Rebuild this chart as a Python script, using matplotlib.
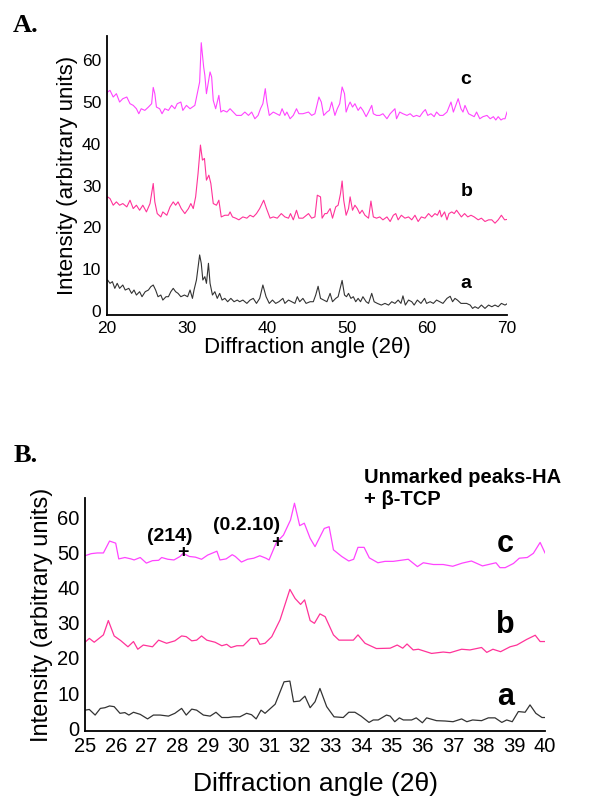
import matplotlib
matplotlib.use("Agg")
import matplotlib.pyplot as plt

# ---------------- Panel A data ----------------
a_A_x = [20.0, 20.1, 20.4, 20.7, 21.0, 21.3, 21.6, 22.0, 22.3, 22.75, 23.1, 23.4, 23.7, 24.1, 24.4, 24.8,
         25.2, 25.5, 25.8, 26.1, 26.4, 26.75, 27.0, 27.4, 27.7, 28.0, 28.3, 28.6, 28.9, 29.25, 29.7, 30.1,
         30.4, 30.7, 30.9, 31.2, 31.6, 31.8, 32.0, 32.25, 32.45, 32.7, 32.9, 33.2, 33.5, 33.8, 34.1, 34.4,
         34.75, 35.1, 35.5, 35.9, 36.3, 36.6, 37.0, 37.5, 37.9, 38.3, 38.7, 39.1, 39.5, 39.9, 40.3, 40.7,
         41.1, 41.5, 42.0, 42.25, 42.7, 43.1, 43.5, 43.8, 44.1, 44.5, 44.9, 45.4, 45.8, 46.1, 46.4, 46.7,
         47.1, 47.5, 47.9, 48.2, 48.6, 48.9, 49.1, 49.4, 49.7, 49.95, 50.2, 50.5, 50.8, 51.1, 51.4, 51.7,
         52.0, 52.4, 52.7, 53.1, 53.4, 53.8, 54.3, 54.75, 55.2, 55.6, 56.0, 56.4, 56.75, 57.0, 57.3, 57.7,
         58.1, 58.4, 58.8, 59.25, 59.7, 59.95, 60.4, 60.8, 61.2, 61.6, 62.0, 62.5, 62.9, 63.2, 63.5, 63.8,
         64.25, 64.5, 64.95, 65.4, 65.7, 66.0, 66.4, 66.8, 67.25, 67.7, 68.1, 68.5, 68.9, 69.3, 69.75, 70.0]
a_A_y = [7.2, 7.4, 6.6, 7.0, 5.4, 6.6, 5.4, 6.2, 5.0, 5.4, 4.2, 5.0, 3.8, 4.6, 3.4, 4.6,
         5.0, 5.8, 6.2, 5.0, 3.4, 3.8, 2.6, 3.4, 3.4, 4.6, 5.4, 4.6, 4.2, 3.4, 3.8, 3.4,
         5.0, 3.0, 5.0, 7.4, 13.4, 11.4, 7.4, 8.2, 6.6, 11.4, 6.6, 3.8, 4.6, 3.0, 4.2, 2.6,
         3.0, 2.2, 3.0, 2.2, 2.6, 2.2, 2.6, 1.8, 2.6, 3.0, 1.8, 3.0, 6.2, 3.4, 1.8, 2.6,
         1.8, 2.2, 3.0, 1.8, 2.6, 2.2, 1.8, 3.4, 2.2, 3.0, 1.8, 2.2, 2.2, 3.8, 5.9, 3.0,
         2.6, 2.2, 4.2, 2.2, 3.0, 3.4, 5.0, 7.3, 3.8, 3.4, 4.2, 3.0, 3.4, 2.2, 3.0, 2.2,
         3.4, 2.2, 1.8, 4.2, 2.2, 1.8, 1.4, 1.8, 1.4, 2.2, 1.8, 2.6, 1.8, 3.6, 1.4, 2.6,
         2.2, 1.4, 2.6, 1.8, 3.0, 1.8, 2.2, 1.8, 2.6, 2.2, 1.8, 3.0, 3.5, 2.2, 3.0, 2.6,
         1.8, 1.8, 1.8, 1.4, 0.6, 1.0, 0.6, 1.4, 0.6, 1.4, 1.0, 1.4, 1.0, 1.8, 1.4, 1.7]

b_A_x = [20.0, 20.1, 20.4, 20.8, 21.2, 21.6, 22.0, 22.5, 22.9, 23.3, 23.7, 24.1, 24.5, 24.95, 25.4, 25.8,
         26.0, 26.3, 26.75, 27.0, 27.5, 27.9, 28.3, 28.6, 28.9, 29.3, 29.75, 30.2, 30.5, 30.8, 31.1, 31.4,
         31.7, 31.95, 32.2, 32.45, 32.75, 33.0, 33.3, 33.7, 34.0, 34.3, 34.75, 35.2, 35.4, 35.7, 36.1, 36.5,
         37.0, 37.5, 37.9, 38.3, 38.7, 39.1, 39.6, 39.95, 40.4, 40.8, 41.3, 41.8, 42.25, 42.7, 42.95, 43.3,
         43.7, 44.0, 44.5, 45.2, 45.6, 46.0, 46.3, 46.7, 46.9, 47.25, 47.5, 47.9, 48.2, 48.6, 48.9, 49.2,
         49.4, 49.6, 49.9, 50.2, 50.4, 50.7, 51.0, 51.3, 51.6, 51.9, 52.25, 52.7, 53.0, 53.3, 53.7, 54.1,
         54.5, 55.0, 55.4, 55.8, 56.1, 56.4, 56.8, 57.25, 57.7, 58.1, 58.5, 58.9, 59.3, 59.75, 60.2, 60.6,
         61.0, 61.3, 61.6, 61.8, 62.2, 62.5, 62.75, 63.1, 63.4, 63.7, 64.0, 64.3, 64.7, 65.1, 65.5, 65.9,
         66.4, 66.8, 67.25, 67.7, 68.1, 68.5, 68.9, 69.3, 69.7, 70.0]
b_A_y = [27.0, 27.3, 26.9, 25.3, 26.1, 25.3, 25.7, 24.9, 26.5, 24.5, 25.3, 24.1, 25.3, 23.7, 25.7, 30.5,
         26.1, 23.3, 22.5, 23.7, 22.9, 24.9, 26.1, 25.3, 26.1, 24.5, 23.3, 24.5, 25.7, 24.5, 27.3, 32.9,
         39.7, 36.1, 36.5, 31.3, 32.5, 30.5, 25.7, 25.3, 26.5, 22.5, 22.9, 22.9, 23.7, 22.5, 22.2, 21.8,
         22.5, 22.2, 22.9, 22.5, 23.3, 24.5, 26.5, 24.5, 22.2, 22.5, 22.2, 23.3, 22.5, 22.2, 23.3, 21.8,
         24.1, 22.2, 22.2, 23.3, 22.2, 22.5, 27.7, 27.3, 22.2, 23.3, 23.3, 24.5, 22.2, 24.9, 25.3, 28.1,
         31.1, 26.5, 22.9, 24.5, 27.3, 24.1, 25.3, 24.5, 23.3, 24.1, 22.9, 22.2, 26.3, 22.5, 22.2, 22.5,
         21.8, 22.5, 21.4, 22.9, 23.3, 21.8, 22.9, 22.2, 22.5, 21.8, 22.9, 21.4, 22.5, 22.2, 23.3, 22.5,
         23.3, 22.9, 24.1, 22.5, 23.7, 21.8, 23.3, 23.7, 23.3, 24.1, 23.3, 22.5, 23.3, 22.5, 22.9, 22.5,
         21.8, 22.2, 21.4, 21.8, 21.8, 21.0, 21.8, 22.9, 21.8, 21.9]

c_A_x = [20.0, 20.1, 20.4, 20.8, 21.2, 21.6, 22.0, 22.5, 22.9, 23.3, 23.7, 24.0, 24.3, 24.75, 25.2, 25.6,
         25.8, 26.0, 26.2, 26.6, 26.9, 27.25, 27.7, 28.1, 28.5, 28.8, 29.25, 29.5, 29.95, 30.4, 30.7, 31.0,
         31.3, 31.6, 31.8, 32.1, 32.25, 32.45, 32.9, 33.1, 33.3, 33.6, 34.0, 34.25, 34.55, 35.0, 35.4, 35.8,
         36.2, 36.8, 37.25, 37.7, 38.1, 38.5, 38.9, 39.2, 39.5, 39.8, 40.0, 40.3, 40.8, 41.2, 41.6, 41.9,
         42.25, 42.5, 42.9, 43.3, 43.7, 44.0, 44.5, 45.2, 45.6, 46.0, 46.3, 46.5, 46.8, 47.1, 47.5, 47.8,
         48.1, 48.5, 48.8, 49.1, 49.4, 49.7, 49.9, 50.2, 50.4, 50.7, 51.0, 51.4, 51.7, 52.0, 52.4, 52.7,
         53.1, 53.3, 53.7, 54.1, 54.5, 55.0, 55.4, 55.8, 56.0, 56.2, 56.6, 57.0, 57.5, 57.9, 58.3, 58.7,
         59.1, 59.5, 59.8, 60.1, 60.5, 60.9, 61.2, 61.6, 62.0, 62.5, 62.75, 63.0, 63.3, 63.6, 63.9, 64.25,
         64.5, 64.75, 65.2, 65.6, 65.9, 66.2, 66.6, 67.0, 67.5, 67.9, 68.3, 68.6, 68.9, 69.25, 69.5, 69.75, 70.0]
c_A_y = [51.5, 52.4, 52.8, 51.2, 52.0, 50.0, 50.8, 51.2, 49.6, 49.2, 48.4, 47.2, 48.4, 48.0, 48.8, 49.6,
         53.5, 52.0, 48.8, 48.4, 47.2, 48.4, 48.0, 49.2, 48.4, 49.6, 50.0, 48.0, 49.2, 48.4, 48.8, 49.2,
         52.0, 54.8, 64.2, 58.4, 56.4, 52.0, 57.2, 56.0, 50.4, 48.4, 51.6, 47.6, 48.0, 47.6, 48.4, 47.6,
         46.8, 46.8, 47.6, 46.8, 47.6, 46.0, 46.8, 48.4, 49.6, 53.2, 50.0, 46.8, 47.6, 47.2, 46.8, 48.4,
         46.8, 47.6, 46.0, 46.8, 48.4, 47.2, 47.2, 47.6, 46.8, 47.2, 49.6, 51.2, 50.0, 46.8, 47.6, 48.0,
         50.0, 46.8, 48.4, 49.6, 53.6, 52.0, 47.6, 49.2, 50.0, 48.8, 49.6, 48.0, 48.8, 48.0, 46.5, 47.6,
         49.2, 47.2, 46.8, 46.8, 47.2, 46.0, 47.2, 48.0, 48.4, 46.0, 47.6, 47.2, 46.8, 47.2, 46.5, 46.8,
         46.5, 47.6, 48.2, 46.8, 47.2, 46.5, 47.6, 46.8, 46.8, 47.6, 48.8, 50.0, 47.6, 49.2, 50.8, 48.4,
         47.6, 49.2, 47.2, 46.8, 46.5, 47.6, 46.0, 46.5, 46.8, 46.0, 46.5, 45.7, 46.5, 45.7, 46.0, 46.0, 47.6]

# ---------------- Panel B data ----------------
a_B_x = [25.0, 25.14, 25.33, 25.5, 25.65, 25.8, 25.95, 26.14, 26.3, 26.43, 26.58, 26.8, 27.04, 27.23, 27.45,
         27.72, 27.93, 28.15, 28.3, 28.48, 28.64, 28.86, 29.08, 29.27, 29.46, 29.67, 29.84, 30.05, 30.27,
         30.43, 30.58, 30.74, 30.87, 31.2, 31.49, 31.68, 31.8, 32.0, 32.17, 32.34, 32.5, 32.66, 32.88,
         33.12, 33.42, 33.6, 33.8, 34.0, 34.26, 34.4, 34.56, 34.83, 34.95, 35.1, 35.25, 35.38, 35.65,
         35.8, 36.0, 36.14, 36.46, 36.74, 37.0, 37.28, 37.45, 37.64, 37.93, 38.15, 38.37, 38.59, 38.75,
         38.93, 39.13, 39.35, 39.51, 39.7, 39.9, 40.0]
a_B_y = [5.1, 5.3, 3.7, 5.6, 5.8, 6.3, 6.1, 4.2, 4.4, 3.7, 4.5, 3.9, 2.6, 3.7, 3.7,
         3.4, 4.2, 5.6, 3.7, 5.4, 5.1, 3.7, 3.4, 4.5, 3.0, 3.0, 3.2, 3.2, 4.2,
         3.8, 2.6, 5.1, 4.2, 6.8, 13.2, 13.4, 7.5, 7.7, 9.1, 5.8, 7.5, 11.3, 6.1,
         3.2, 3.0, 4.5, 4.5, 3.4, 1.6, 2.3, 2.3, 3.7, 3.4, 1.8, 2.9, 2.3, 2.3,
         2.9, 1.5, 2.9, 2.1, 2.0, 1.8, 2.6, 1.8, 2.3, 2.1, 2.9, 2.9, 1.6, 2.3,
         1.8, 4.7, 4.5, 6.6, 4.2, 3.0, 3.0]

b_B_x = [25.0, 25.14, 25.3, 25.6, 25.76, 25.95, 26.16, 26.4, 26.58, 26.72, 26.9, 27.2, 27.4, 27.66, 27.93,
         28.15, 28.3, 28.48, 28.64, 28.8, 28.97, 29.24, 29.46, 29.62, 29.76, 29.95, 30.16, 30.4, 30.6,
         30.7, 30.87, 31.09, 31.36, 31.68, 31.85, 32.03, 32.16, 32.34, 32.48, 32.66, 32.83, 33.1, 33.28,
         33.75, 33.9, 34.13, 34.5, 34.95, 35.18, 35.36, 35.5, 35.7, 35.87, 36.3, 36.68, 36.9, 37.28, 37.55,
         37.93, 38.1, 38.3, 38.55, 38.86, 39.08, 39.18, 39.4, 39.68, 39.84, 40.0]
b_B_y = [24.5, 25.6, 24.5, 26.6, 30.7, 26.3, 25.0, 23.2, 24.7, 22.5, 23.7, 23.2, 25.1, 24.2, 24.9,
         26.3, 26.1, 24.9, 25.1, 26.3, 25.1, 24.5, 23.5, 23.9, 23.0, 23.5, 23.5, 25.6, 25.6,
         23.9, 24.2, 26.1, 30.9, 39.6, 37.0, 35.3, 36.6, 30.7, 29.9, 32.6, 31.8, 26.6, 25.1,
         25.1, 26.6, 24.2, 22.7, 22.8, 23.7, 22.8, 24.0, 22.3, 22.5, 21.3, 21.7, 21.5, 22.5, 22.3,
         23.0, 21.6, 22.5, 21.8, 23.2, 23.7, 24.2, 25.3, 26.5, 24.7, 24.7]

c_B_x = [25.0, 25.2, 25.4, 25.6, 25.8, 26.0, 26.1, 26.3, 26.5, 26.6, 26.8, 27.0, 27.2, 27.4, 27.5, 27.7,
         27.9, 28.1, 28.2, 28.4, 28.6, 28.8, 29.0, 29.3, 29.4, 29.6, 29.8, 29.9, 30.1, 30.3, 30.5, 30.7,
         30.9, 31.0, 31.24, 31.47, 31.7, 31.83, 32.0, 32.15, 32.34, 32.5, 32.8, 32.96, 33.1, 33.37, 33.6,
         33.76, 33.9, 34.1, 34.27, 34.55, 34.78, 35.05, 35.54, 35.84, 36.03, 36.36, 36.68, 36.99, 37.3,
         37.6, 37.96, 38.4, 38.53, 38.7, 38.97, 39.16, 39.42, 39.62, 39.84, 40.0]
c_B_y = [49.2, 49.8, 50.0, 50.0, 53.4, 52.8, 48.3, 48.7, 48.3, 48.0, 48.7, 47.1, 47.8, 47.9, 48.7, 48.2,
         48.0, 49.0, 49.9, 49.0, 48.8, 48.2, 49.4, 50.5, 48.0, 48.3, 49.5, 49.0, 47.4, 48.2, 48.5, 49.2,
         48.5, 48.0, 53.0, 55.1, 59.4, 64.2, 57.8, 58.5, 54.2, 51.8, 57.0, 57.5, 50.9, 49.0, 47.7,
         48.2, 51.6, 51.6, 48.6, 47.2, 47.6, 47.6, 48.2, 46.1, 47.2, 46.7, 46.7, 46.2, 47.1,
         47.7, 46.3, 47.2, 45.8, 45.8, 47.0, 48.5, 48.7, 49.9, 53.0, 50.0]

yticks = [0, 10, 20, 30, 40, 50, 60]
xticks_A = [20, 30, 40, 50, 60, 70]
xticks_B = list(range(25, 41))
series_labels = ["a", "b", "c"]
col_a, col_b, col_c = "#333333", "#ff3399", "#ff44ff"

fig = plt.figure(figsize=(6.0, 8.1), dpi=100)
SANS = ["Liberation Sans", "DejaVu Sans"]
SERIF = ["Liberation Serif", "DejaVu Serif"]


def style_axes(ax, tick_size, pad):
    for s in ("top", "right"):
        ax.spines[s].set_visible(False)
    for s in ("left", "bottom"):
        ax.spines[s].set_linewidth(1.3)
    ax.tick_params(length=0, pad=pad, labelsize=tick_size)
    for lab in ax.get_xticklabels() + ax.get_yticklabels():
        lab.set_family(SANS)

# ---------- Panel A ----------
axA = fig.add_axes([0.178, 0.611, 0.667, 0.344])
axA.plot(a_A_x, a_A_y, color=col_a, lw=0.8)
axA.plot(b_A_x, b_A_y, color=col_b, lw=0.8)
axA.plot(c_A_x, c_A_y, color=col_c, lw=0.8)
axA.set_xlim(20, 70)
axA.set_ylim(-1, 65.7)
axA.set_xticks(xticks_A)
axA.set_yticks(yticks)
style_axes(axA, 12.5, 4)
axA.set_xlabel("Diffraction angle (2θ)", fontsize=16, family=SANS, labelpad=1)
axA.set_ylabel("Intensity (arbitrary units)", fontsize=16, family=SANS, labelpad=3)
for lab, yv in zip(series_labels, [6.5, 28.5, 55.5]):
    axA.text(64.9, yv, lab, fontsize=14, fontweight="bold", family=SANS, ha="center", va="center")
fig.text(0.022, 0.968, "A.", fontsize=19, fontweight="bold", family=SERIF, ha="left", va="center")

# ---------- Panel B ----------
axB = fig.add_axes([0.1417, 0.0975, 0.7667, 0.2877])
axB.plot(a_B_x, a_B_y, color=col_a, lw=0.9)
axB.plot(b_B_x, b_B_y, color=col_b, lw=0.9)
axB.plot(c_B_x, c_B_y, color=col_c, lw=0.9)
axB.set_xlim(25, 40)
axB.set_ylim(-0.86, 65.7)
axB.set_xticks(xticks_B)
axB.set_yticks(yticks)
style_axes(axB, 14.5, 4)
axB.set_xlabel("Diffraction angle (2θ)", fontsize=19, family=SANS, labelpad=12)
axB.set_ylabel("Intensity (arbitrary units)", fontsize=17, family=SANS, labelpad=3)
for lab, yv in zip(series_labels, [9.0, 29.5, 52.5]):
    axB.text(38.7, yv, lab, fontsize=22, fontweight="bold", family=SANS, ha="center", va="center")
axB.text(28.2, 50.0, "+", fontsize=14, fontweight="bold", family=SANS, ha="center", va="center")
axB.text(31.25, 53.0, "+", fontsize=14, fontweight="bold", family=SANS, ha="center", va="center")
axB.text(27.75, 54.8, "(214)", fontsize=14, fontweight="bold", family=SANS, ha="center", va="center")
axB.text(30.27, 57.8, "(0.2.10)", fontsize=14, fontweight="bold", family=SANS, ha="center", va="center")
fig.text(0.607, 0.411, "Unmarked peaks-HA", fontsize=14.5, fontweight="bold", family=SANS, ha="left", va="center")
fig.text(0.607, 0.383, "+ β-TCP", fontsize=14.5, fontweight="bold", family=SANS, ha="left", va="center")
fig.text(0.022, 0.438, "B.", fontsize=19, fontweight="bold", family=SERIF, ha="left", va="center")

fig.savefig("out.png", dpi=100)
